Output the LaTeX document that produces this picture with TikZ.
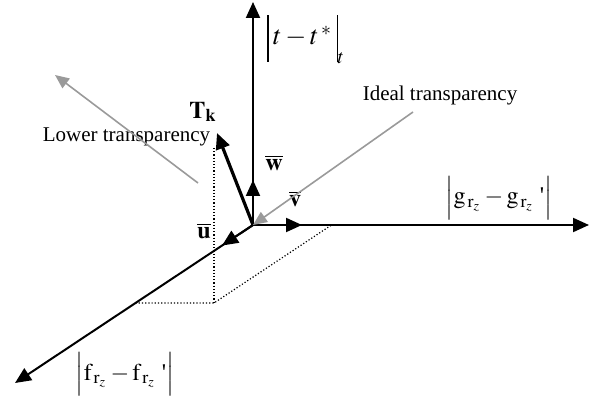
\documentclass[tikz,border=0pt]{standalone}
\usepackage{mathptmx}
\usepackage{fontspec}
\setmainfont{Liberation Serif}
\usetikzlibrary{arrows.meta,positioning,calc}
\definecolor{pointer}{HTML}{9A9A9A}
\newcommand{\tallbar}{\rule[-8.5pt]{0.55pt}{23.5pt}}
\tikzset{
  axisarr/.style={-{Triangle[length=8pt,width=7pt]}, line width=1pt},
  tkarr/.style={-{Triangle[length=8pt,width=7pt]}, line width=1.6pt},
  hintarr/.style={-{Triangle[length=7pt,width=6pt]}, line width=0.8pt, draw=pointer},
  projline/.style={densely dotted, line width=0.6pt},
  axlabel/.style={font=\large, inner sep=0pt},
  veclabel/.style={font=\large, inner sep=0pt},
  note/.style={font=\fontsize{10.5}{12}\selectfont, inner sep=0pt}
}
\begin{document}
\begin{tikzpicture}[x=0.5pt, y=-0.5pt]
    \useasboundingbox (0,0) rectangle (599,400);
    % axes
    \coordinate (O) at (253,225);
    \coordinate (tend) at (253,2);
    \coordinate (gend) at (589,225);
    \coordinate (fend) at (15,383);
    % unit vectors and T_k
    \coordinate (wtip) at (253,180);
    \coordinate (vtip) at (302,225);
    \coordinate (utip) at ($(O)!0.13!(fend)$);
    \coordinate (tktip) at (217,133);
    % projection of T_k
    \coordinate (projtop) at (214,148);
    \coordinate (proj) at (214,303);
    \coordinate (projf) at (135.5,303);
    \coordinate (projg) at (331.5,225);
    % pointers
    \coordinate (lowstart) at (198,183);
    \coordinate (lowtip) at (55,75);
    \coordinate (idealstart) at (413,112);

    \node[axlabel, anchor=base west, font=\fontsize{13.5}{16}\selectfont] (tdiff) at (267,45)
      {\tallbar\,$t - t^{\,*}$\,\tallbar\raisebox{-9.5pt}{\fontsize{10}{12}\selectfont$t$}};
    \node[axlabel] (gdiff) at (499,198) {$\Bigl|\mathrm{g}_{\,\mathrm{r}_z} - \mathrm{g}_{\,\mathrm{r}_z}\ \mbox{\textquotesingle}\Bigr|$};
    \node[axlabel] (fdiff) at (125,374) {$\Bigl|\mathrm{f}_{\,\mathrm{r}_z} - \mathrm{f}_{\,\mathrm{r}_z}\ \mbox{\textquotesingle}\Bigr|$};
    \node[veclabel] (tk) at (203,112) {$\mathbf{T}_{\mathbf{k}}$};
    \node[veclabel] (wbar) at (274,163) {$\overline{\mathbf{w}}$};
    \node[veclabel] (vbar) at (295,199) {$\overline{\mathbf{v}}$};
    \node[veclabel] (ubar) at (204,231) {$\overline{\mathbf{u}}$};
    \node[note] (ideal) at (440,95) {Ideal transparency};
    \node[note] (lower) at (126.5,137) {Lower transparency};

    \draw[projline] (projtop) -- (proj);
    \draw[projline] (projf) -- (proj) -- (projg);

    \draw[axisarr] (O) -- (tend);
    \draw[axisarr] (O) -- (gend);
    \draw[axisarr] (O) -- (fend);
    \draw[axisarr] (O) -- (wtip);
    \draw[axisarr] (O) -- (vtip);
    \draw[axisarr] (O) -- (utip);
    \draw[tkarr] (O) -- (tktip);

    \draw[hintarr] (lowstart) -- (lowtip);
    \draw[hintarr] (idealstart) -- (O);
  \end{tikzpicture}
\end{document}
